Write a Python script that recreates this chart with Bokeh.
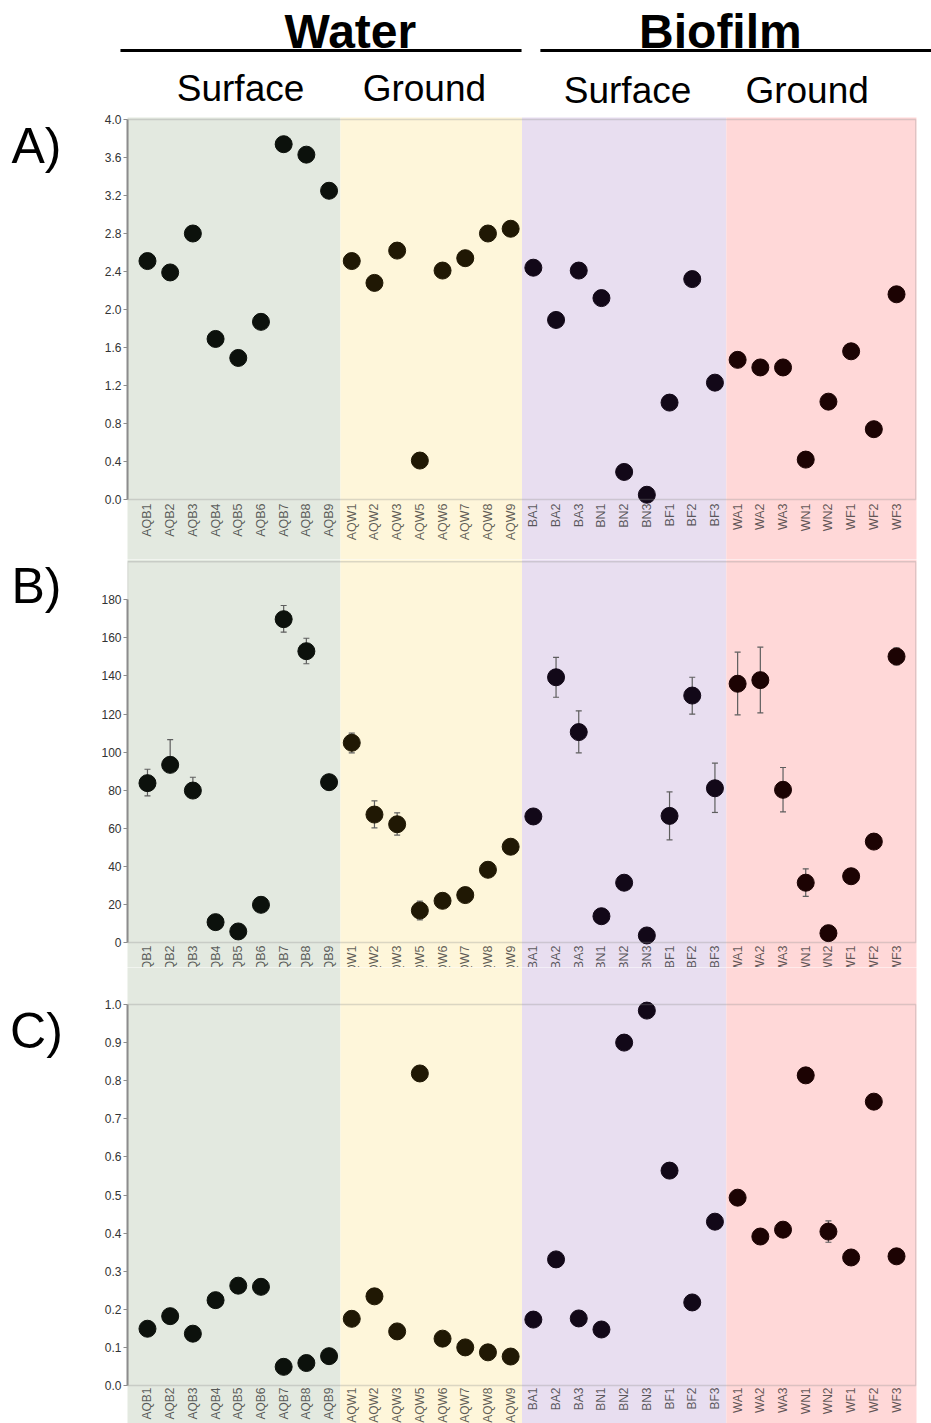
import math
from bokeh.plotting import figure
from bokeh.models import Range1d, FixedTicker, Label, BoxAnnotation, PrintfTickFormatter
from bokeh.layouts import column, row
from bokeh.embed import file_html
from bokeh.resources import INLINE
from bokeh.core.properties import value

# ---------------- data ----------------
categories = ["AQB1", "AQB2", "AQB3", "AQB4", "AQB5", "AQB6", "AQB7", "AQB8", "AQB9",
              "AQW1", "AQW2", "AQW3", "AQW5", "AQW6", "AQW7", "AQW8", "AQW9",
              "BA1", "BA2", "BA3", "BN1", "BN2", "BN3", "BF1", "BF2", "BF3",
              "WA1", "WA2", "WA3", "WN1", "WN2", "WF1", "WF2", "WF3"]
group_names = ["Surface", "Ground", "Surface", "Ground"]
super_groups = ["Water", "Biofilm"]
group_sizes = [9, 8, 9, 8]
band_colors = ["#E3E9E0", "#FEF6DA", "#E8DEF0", "#FFD8D8"]
point_colors = ["#0c110c", "#201804", "#120818", "#1c0303"]

panel_a = [2.51, 2.39, 2.80, 1.69, 1.49, 1.87, 3.74, 3.63, 3.25,
           2.51, 2.28, 2.62, 0.41, 2.41, 2.54, 2.80, 2.85,
           2.44, 1.89, 2.41, 2.12, 0.29, 0.05, 1.02, 2.32, 1.23,
           1.47, 1.39, 1.39, 0.42, 1.03, 1.56, 0.74, 2.16]

panel_b = [83.7, 93.3, 79.8, 10.7, 5.8, 19.8, 169.8, 153.0, 84.2,
           104.9, 67.2, 62.1, 16.8, 21.9, 24.9, 38.2, 50.3,
           66.2, 139.3, 110.5, 13.8, 31.4, 3.7, 66.5, 129.7, 81.0,
           135.9, 137.8, 80.2, 31.4, 4.9, 34.8, 53.0, 150.2]
panel_b_err_up = [7.3, 13.2, 7.0, 0, 0, 0, 7.2, 6.8, 0,
                  5.1, 7.2, 6.0, 4.9, 0, 0, 0, 0,
                  0, 10.5, 11.2, 0, 0, 0, 12.6, 9.6, 13.2,
                  16.6, 17.3, 11.7, 7.3, 0, 0, 0, 4.6]
panel_b_err_down = [6.7, 0, 0, 0, 0, 0, 6.8, 6.6, 0,
                    5.3, 7.0, 5.7, 4.9, 0, 0, 0, 0,
                    0, 10.5, 10.9, 0, 0, 0, 12.6, 9.8, 12.7,
                    16.3, 17.2, 11.6, 7.2, 0, 0, 0, 4.4]

panel_c = [0.149, 0.182, 0.136, 0.224, 0.262, 0.259, 0.049, 0.059, 0.077,
           0.175, 0.234, 0.142, 0.819, 0.123, 0.100, 0.087, 0.076,
           0.173, 0.331, 0.176, 0.147, 0.900, 0.984, 0.564, 0.218, 0.430,
           0.493, 0.391, 0.409, 0.814, 0.404, 0.336, 0.745, 0.339]
panel_c_err = [0, 0, 0, 0, 0, 0, 0, 0, 0,
               0, 0, 0, 0, 0, 0, 0, 0,
               0, 0, 0, 0, 0, 0, 0, 0, 0,
               0, 0, 0, 0, 0.028, 0, 0, 0]

ticks_a = [0.0, 0.4, 0.8, 1.2, 1.6, 2.0, 2.4, 2.8, 3.2, 3.6, 4.0]
ticks_b = [0, 20, 40, 60, 80, 100, 120, 140, 160, 180]
ticks_c = [0.0, 0.1, 0.2, 0.3, 0.4, 0.5, 0.6, 0.7, 0.8, 0.9, 1.0]

# ---------------- layout helpers ----------------
FONT = "Liberation Sans"
TOTAL_W = 931
LW = 90            # width of the panel-letter strip
PW = TOTAL_W - LW  # width of each panel figure
BL, BR = 37, 15
n = len(categories)
PAD = 0.88
X0, X1 = -PAD, n - 1 + PAD
PPU = (PW - BL - BR) / (X1 - X0)
idx = list(range(n))
grp = []
for g, s in enumerate(group_sizes):
    grp += [g] * s
starts = [sum(group_sizes[:g]) for g in range(4)]
ends = [starts[g] + group_sizes[g] - 1 for g in range(4)]
band_left = [X0 - 5 if g == 0 else starts[g] - 0.5 for g in range(4)]
band_right = [X1 + 5 if g == 3 else ends[g] + 0.5 for g in range(4)]
pcolors = [point_colors[g] for g in grp]


def no_grid(f):
    for g in f.grid:
        g.visible = False


def panel(height, y0, y1, ymax, ticks, fmt, vals, e_up, e_dn, btop, lab_off, lab_size):
    p = figure(width=PW, height=height, x_range=Range1d(X0, X1), y_range=Range1d(y0, y1),
               x_axis_location=None, toolbar_location=None, output_backend="svg",
               min_border_left=BL, min_border_right=BR, min_border_top=btop,
               min_border_bottom=0, outline_line_color=None, title=None)
    no_grid(p)
    span = y1 - y0
    p.quad(left=band_left, right=band_right, bottom=y0 - span, top=y1 + span,
           fill_color=band_colors, line_color=None)
    # error bars
    ei = [i for i in idx if e_up[i] > 0 or e_dn[i] > 0]
    if ei:
        lo = [vals[i] - e_dn[i] for i in ei]
        hi = [vals[i] + e_up[i] for i in ei]
        xs = [idx[i] for i in ei]
        p.segment(x0=xs, y0=lo, x1=xs, y1=hi, line_color="#5e5e5e", line_width=1.2)
        cx = [idx[i] for i in ei if e_up[i] > 0] + [idx[i] for i in ei if e_dn[i] > 0]
        cy = [vals[i] + e_up[i] for i in ei if e_up[i] > 0] + \
             [vals[i] - e_dn[i] for i in ei if e_dn[i] > 0]
        p.scatter(x=cx, y=cy, marker="dash", size=6, line_color="#5e5e5e", line_width=1.2)
    p.scatter(x=idx, y=vals, size=17, fill_color=pcolors, line_color=pcolors)
    # category labels below the zero line
    p.text(x=idx, y=[0] * n, text=categories, angle=math.pi / 2, text_align="right",
           text_baseline="middle", y_offset=lab_off, text_font=value(FONT),
           text_font_size=lab_size, text_color="#222222", text_alpha=0.72)
    # panel box
    p.add_layout(BoxAnnotation(left=X0, right=X1 - 0.03, bottom=0, top=ymax,
                               fill_alpha=0, line_color="#8c8c8c", line_width=1.5))
    ax = p.yaxis[0]
    ax.bounds = (0, ticks[-1])
    ax.ticker = FixedTicker(ticks=ticks, minor_ticks=[])
    ax.formatter = PrintfTickFormatter(format=fmt)
    ax.axis_line_color = "#8c8c8c"
    ax.axis_line_width = 2
    ax.major_tick_line_color = "#8c8c8c"
    ax.major_tick_out = 4
    ax.major_tick_in = 0
    ax.minor_tick_line_color = None
    ax.major_label_standoff = 2
    ax.major_label_text_font = FONT
    ax.major_label_text_font_size = "12px"
    ax.major_label_text_color = "#333333"
    return p


def letter_fig(height, text, yc):
    f = figure(width=LW, height=height, x_range=Range1d(0, LW), y_range=Range1d(height, 0),
               x_axis_location=None, y_axis_location=None, toolbar_location=None,
               output_backend="svg", min_border=0, outline_line_color=None, title=None)
    no_grid(f)
    f.add_layout(Label(x=36, y=yc, text=text, text_font=FONT, text_font_size="50px",
                       text_align="center", text_baseline="middle", text_color="black"))
    return f


# header (same horizontal scale as the panels)
HH = 112
hx0 = X0 - (LW + BL) / PPU
hx1 = X1 + BR / PPU
h = figure(width=TOTAL_W, height=HH, x_range=Range1d(hx0, hx1), y_range=Range1d(HH, 0),
           x_axis_location=None, y_axis_location=None, toolbar_location=None,
           output_backend="svg", min_border=0, outline_line_color=None, title=None)
no_grid(h)
h.segment(x0=[-1.19, 17.31], y0=[50, 50], x1=[16.48, hx1], y1=[50, 50],
          line_color="black", line_width=3)
for txt, xc in zip(super_groups, [8.94, 25.24]):
    h.add_layout(Label(x=xc, y=31, text=txt, text_font=FONT, text_font_style="bold",
                       text_font_size="48px", text_align="center", text_baseline="middle",
                       text_color="black"))
for txt, xc, yc in zip(group_names, [4.10, 12.20, 21.15, 29.06], [88, 88, 90, 90]):
    h.add_layout(Label(x=xc, y=yc, text=txt, text_font=FONT, text_color="black",
                       text_font_size="37px", text_align="center", text_baseline="middle"))

HA, HB, HC = 447, 408, 456
pa = panel(HA, -(559 - 499) / 95.0, (499 - 117) / 95.0, 4.0, ticks_a, "%.1f",
           panel_a, [0] * n, [0] * n, 5, 4, "12.5px")
pb = panel(HB, -(967 - 942) / 1.904, (942 - 559) / 1.904, 200.0, ticks_b, "%d",
           panel_b, panel_b_err_up, panel_b_err_down, 0, 3, "12.5px")
pc = panel(HC, -(1423 - 1385) / 381.0, (1385 - 967) / 381.0, 1.0, ticks_c, "%.1f",
           panel_c, panel_c_err, panel_c_err, 0, 2, "12px")

la = letter_fig(HA, "A)", 141 - 112)
lb = letter_fig(HB, "B)", 585 - 559)
lc = letter_fig(HC, "C)", 1030 - 967)

layout = column(h, row(la, pa, spacing=0), row(lb, pb, spacing=0),
                row(lc, pc, spacing=0), spacing=0)
open("out.html", "w").write(file_html(layout, INLINE))
